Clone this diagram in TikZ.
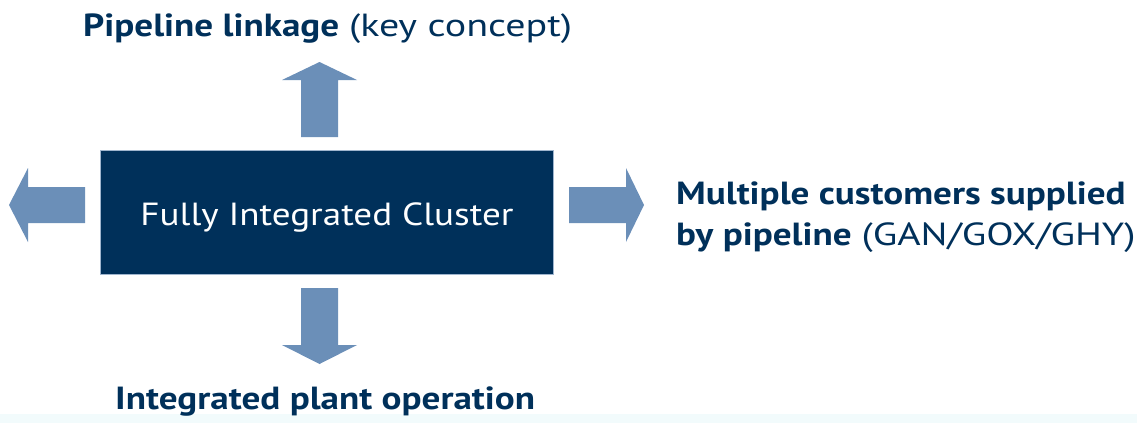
\documentclass[tikz,border=0pt]{standalone}
\usepackage{fontspec}
\setmainfont{PT Sans}[FakeStretch=1.16]
\newfontfamily\widereg{PT Sans}[FakeStretch=1.25]
\definecolor{navy}{HTML}{00305A}
\definecolor{arrowblue}{HTML}{6B8FB8}
\definecolor{edgeblue}{HTML}{9FB5CE}
\definecolor{fadestrip}{HTML}{F2FBFC}
\begin{document}
\begin{tikzpicture}[x=1pt,y=-1pt,
  label/.style={inner sep=0pt,text=navy,font=\fontsize{32}{38}\selectfont},
  fatarrow/.style={fill=arrowblue}]
\useasboundingbox (0,0) rectangle (1137,423);
\fill[fadestrip] (0,414) rectangle (1137,423);
% central box
\node[draw=edgeblue,line width=1pt,fill=navy,minimum width=453pt,minimum height=124pt,
  inner sep=0pt,anchor=north west] (cluster) at (100,150) {};
\node[label,text=white,anchor=base] (clustertext) at (327,225) {Fully Integrated Cluster};
% arrows
\fill[fatarrow] (301,137) -- (301,80) -- (282,80) -- (319.5,62) -- (357,80) -- (338,80) -- (338,137) -- cycle;
\fill[fatarrow] (301,288) -- (301,345) -- (282,345) -- (319.5,364) -- (357,345) -- (338,345) -- (338,288) -- cycle;
\fill[fatarrow] (85,187) -- (28,187) -- (28,168) -- (9,205) -- (28,242) -- (28,223) -- (85,223) -- cycle;
\fill[fatarrow] (569,187) -- (626,187) -- (626,168) -- (644,205) -- (626,242) -- (626,223) -- (569,223) -- cycle;
% labels
\node[label,anchor=base west] (top) at (83,36) {\textbf{Pipeline linkage} {\widereg(key concept)}};
\node[label,anchor=base west] (right1) at (676,204) {\textbf{Multiple customers supplied}};
\node[label,anchor=base west] (right2) at (676,245) {\textbf{by pipeline} {\widereg(GAN/GOX/GHY)}};
\node[label,anchor=base west] (bottom) at (115,409) {\textbf{Integrated plant operation}};
\end{tikzpicture}
\end{document}
